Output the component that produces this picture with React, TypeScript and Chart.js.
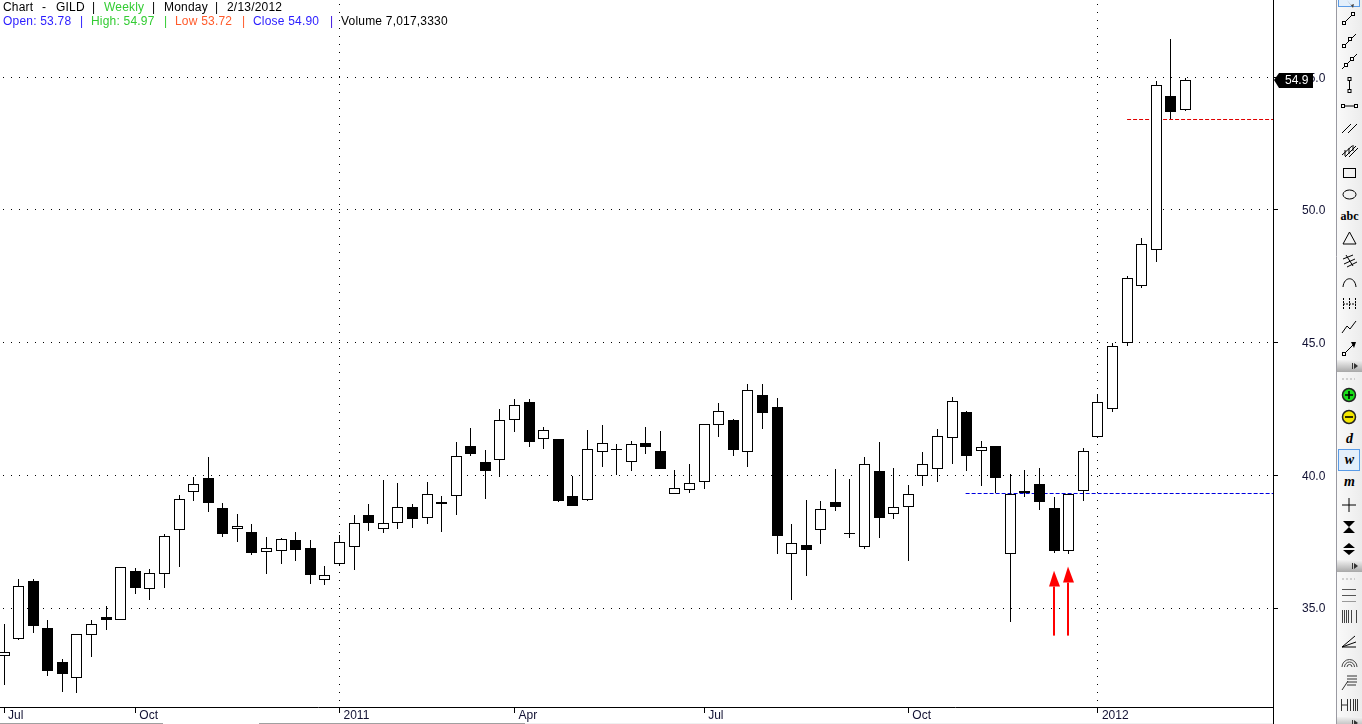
import React, { useEffect, useRef } from "react";
import { Chart, registerables } from "chart.js";

Chart.register(...registerables);

const FONT = "'Liberation Sans', Arial, sans-serif";

const opens = [
  33.21, 33.83, 36.03, 34.26, 32.98, 32.36, 33.98, 34.67, 34.55, 36.4,
  35.7, 36.28, 37.94, 39.37, 39.9, 38.77, 37.98, 37.86, 37.11, 37.15,
  37.56, 37.26, 36.05, 36.66, 37.3, 38.5, 37.98, 38.2, 38.8, 38.39,
  38.92, 39.22, 41.1, 40.5, 40.57, 42.08, 42.76, 41.37, 41.38, 39.22,
  39.07, 40.88, 40.99, 40.5, 41.21, 40.91, 39.29, 39.44, 39.75, 41.89,
  42.08, 40.88, 43.02, 42.57, 37.03, 37.37, 37.94, 38.99, 37.82, 37.3,
  40.16, 38.54, 38.8, 39.97, 40.24, 41.4, 42.38, 40.91, 41.11, 37.03,
  39.41, 39.67, 38.77, 37.15, 39.41, 41.44, 42.5, 44.98, 47.13, 48.48,
  54.3, 53.78,
];
const closes = [
  33.34, 35.83, 34.31, 32.61, 32.5, 34.02, 34.4, 34.53, 36.54, 35.74,
  36.32, 37.71, 39.11, 39.67, 38.94, 37.77, 38.09, 37.09, 37.26, 37.6,
  37.17, 36.23, 36.24, 37.48, 38.2, 38.19, 38.2, 38.8, 38.37, 39.29,
  38.99, 40.72, 40.82, 40.15, 42.08, 42.65, 41.24, 41.7, 39.05, 38.83,
  40.99, 41.21, 40.94, 41.18, 41.05, 40.22, 39.52, 39.71, 41.93, 42.42,
  40.97, 43.21, 42.33, 37.73, 37.45, 37.17, 38.73, 38.79, 37.77, 40.42,
  38.41, 38.8, 39.29, 40.42, 41.48, 42.8, 40.71, 41.06, 39.88, 39.29,
  39.34, 38.98, 37.13, 39.29, 40.91, 42.76, 44.87, 47.43, 48.71, 54.7,
  53.7, 54.9,
];
const highs = [
  34.41, 36.1, 36.1, 34.56, 33.09, 34.02, 34.56, 35.09, 36.54, 36.52,
  36.48, 37.8, 39.24, 39.95, 40.69, 38.95, 38.55, 38.16, 37.67, 37.64,
  37.86, 37.56, 36.59, 37.76, 38.51, 38.93, 39.83, 39.72, 38.93, 39.76,
  39.23, 41.26, 41.79, 40.96, 42.51, 42.88, 42.88, 41.83, 41.38, 39.98,
  41.72, 41.9, 41.19, 41.3, 41.83, 41.68, 40.21, 40.44, 41.93, 42.73,
  42.12, 43.45, 43.45, 42.92, 38.18, 39.08, 39.04, 40.25, 39.87, 40.7,
  41.26, 40.28, 39.64, 40.89, 41.75, 42.95, 42.43, 41.3, 41.11, 40.06,
  40.21, 40.28, 39.19, 39.31, 41.03, 43.06, 45.0, 47.52, 48.95, 54.86,
  56.44, 54.97,
];
const lows = [
  32.11, 33.78, 34.04, 32.42, 31.82, 31.78, 33.14, 34.16, 34.55, 35.51,
  35.29, 35.74, 36.53, 39.02, 38.6, 37.66, 37.47, 36.98, 36.27, 36.64,
  36.79, 35.89, 35.85, 36.59, 36.44, 37.92, 37.81, 37.96, 38.0, 38.15,
  37.85, 38.49, 40.71, 39.09, 39.92, 41.65, 41.05, 41.01, 38.98, 38.83,
  39.02, 40.33, 40.01, 40.15, 40.79, 40.22, 39.29, 39.35, 39.47, 41.46,
  40.71, 40.33, 41.76, 37.02, 35.29, 36.19, 37.43, 38.64, 37.62, 37.23,
  37.62, 38.37, 36.76, 39.58, 39.73, 40.41, 40.15, 39.58, 39.33, 34.46,
  39.2, 38.71, 37.06, 37.02, 39.05, 41.39, 42.37, 44.89, 47.04, 48.02,
  53.42, 53.72,
];

const xTickIndices = [0, 9, 23, 35, 48, 62, 75];
const xTickLabels = ["Jul", "Oct", "2011", "Apr", "Jul", "Oct", "2012"];
const xYearIndices = [23, 75];
const yTicks = [35, 40, 45, 50, 55];

const blueLineLevel = 39.33;
const blueLineStart = 65.93;
const redLineLevel = 53.42;
const redLineStart = 77;

const arrowIndices = [72, 73];
const arrowTails = [33.96, 33.96];
const arrowBases = [35.81, 35.96];
const arrowTips = [36.4, 36.56];

const lastPrice = 54.9;
const lastPriceLabel = "54.9";

const xMin = -0.2777;
const xMax = 87.004;
const yMin = 31.27;
const yMax = 57.91;

const headerRow1: [number, string, string][] = [
  [3, "Chart", "#000"],
  [42, "-", "#000"],
  [56, "GILD", "#000"],
  [92, "|", "#000"],
  [104, "Weekly", "#33cc33"],
  [152, "|", "#000"],
  [164, "Monday", "#000"],
  [215, "|", "#000"],
  [227, "2/13/2012", "#000"],
];
const headerRow2: [number, string, string][] = [
  [3, "Open: 53.78", "#2a1cff"],
  [80, "|", "#2a1cff"],
  [91, "High: 54.97", "#33cc33"],
  [164, "|", "#33cc33"],
  [175, "Low 53.72", "#ff5a2a"],
  [242, "|", "#ff5a2a"],
  [253, "Close 54.90", "#2a1cff"],
  [330, "|", "#3a10e0"],
  [341, "Volume 7,017,3330", "#000"],
];

const candlePlugin = {
  id: "candlePlugin",
  // snap every mark the scales positioned to the pixel grid, as the original renderer does
  afterDatasetsUpdate(chart: any) {
    chart.data.datasets.forEach((ds: any, i: number) => {
      const meta = chart.getDatasetMeta(i);
      meta.data.forEach((el: any) => {
        if (ds.type === "line") {
          el.y = Math.floor(el.y) + 0.5;
        } else {
          el.x = Math.floor(el.x) + 0.5;
          el.y = Math.round(el.y);
          el.base = Math.round(el.base);
          el.height = el.base - el.y;
        }
      });
    });
  },
  afterDraw(chart: any) {
    const { ctx, scales, chartArea } = chart;
    const xs = scales.x;
    const ys = scales.y;
    ctx.save();

    // axis line continues below the date strip
    ctx.fillStyle = "#000";
    ctx.fillRect(Math.round(chartArea.right) - 0, chartArea.bottom, 1, 724 - chartArea.bottom);

    // red arrows
    ctx.fillStyle = "#ff0000";
    arrowIndices.forEach((idx, k) => {
      const cx = Math.floor(xs.getPixelForValue(idx)) + 0.5;
      const tail = ys.getPixelForValue(arrowTails[k]);
      const base = ys.getPixelForValue(arrowBases[k]);
      const tip = ys.getPixelForValue(arrowTips[k]);
      ctx.fillRect(cx - 1.5, base, 2, tail - base);
      ctx.beginPath();
      ctx.moveTo(cx - 0.5, tip);
      ctx.lineTo(cx + 5.5, base);
      ctx.lineTo(cx - 5.5, base);
      ctx.closePath();
      ctx.fill();
    });

    // last price tag
    const py = Math.round(ys.getPixelForValue(lastPrice));
    const ax = chartArea.right + 1;
    ctx.fillStyle = "#000";
    ctx.beginPath();
    ctx.moveTo(ax, py);
    ctx.lineTo(ax + 5, py - 7);
    ctx.lineTo(1313, py - 7);
    ctx.lineTo(1313, py + 8);
    ctx.lineTo(ax + 5, py + 8);
    ctx.closePath();
    ctx.fill();
    ctx.fillStyle = "#fff";
    ctx.font = `12px ${FONT}`;
    ctx.textAlign = "left";
    ctx.textBaseline = "middle";
    ctx.fillText(lastPriceLabel, 1285, py + 1);
    ctx.restore();
  },
};

function Chip({ y, h = 22, active = false, children }: any) {
  return (
    <g>
      {active && (
        <rect x={2.5} y={y - h / 2 + 0.5} width={21} height={h - 1} fill="#e3effb" stroke="#5a9be6" />
      )}
      {children}
    </g>
  );
}

function Header({ y }: { y: number }) {
  return (
    <g>
      <defs>
        <linearGradient id="hdr" x1="0" y1="0" x2="0" y2="1">
          <stop offset="0" stopColor="#f2f2f2" />
          <stop offset="1" stopColor="#a8a8a8" />
        </linearGradient>
      </defs>
      <rect x={1} y={y} width={25} height={12} fill="url(#hdr)" />
      <path d={`M16.5 ${y + 3}v6`} stroke="#333" />
      <path d={`M18 ${y + 3}l4 3-4 3z`} fill="#333" />
    </g>
  );
}

function Grip({ y }: { y: number }) {
  return <path d={`M6 ${y}h13`} stroke="#aaa" strokeDasharray="2 2" />;
}

function Handles({ pts }: { pts: number[][] }) {
  return (
    <g fill="#fff" stroke="#000">
      {pts.map((p, i) => (
        <rect key={i} x={p[0] - 1.5} y={p[1] - 1.5} width={3} height={3} />
      ))}
    </g>
  );
}

function Toolbar() {
  const s = { fill: "none", stroke: "#000" };
  return (
    <svg
      width={26}
      height={724}
      style={{ position: "absolute", left: 1336, top: 0, display: "block" }}
    >
      <defs>
        <linearGradient id="tb" x1="0" y1="0" x2="1" y2="0">
          <stop offset="0" stopColor="#fafafa" />
          <stop offset="1" stopColor="#ececec" />
        </linearGradient>
      </defs>
      <rect x={0} y={0} width={26} height={724} fill="url(#tb)" />
      <path d="M0.5 0V724" stroke="#9a9aa2" />
      <Chip y={-4} h={22} active>
        <path d="M11 0l4 5 3-1-1 4z" fill="#444" />
      </Chip>

      <path d="M8 23L17 14" {...s} />
      <Handles pts={[[8, 23], [17, 14]]} />
      <path d="M7 47L20 34" {...s} />
      <Handles pts={[[8, 46], [14, 39]]} />
      <path d="M6 69L21 54" {...s} />
      <Handles pts={[[10, 65], [16, 59]]} />
      <path d="M13.5 80V91" {...s} />
      <Handles pts={[[13.5, 79], [13.5, 91]]} />
      <path d="M7 106H20" {...s} />
      <Handles pts={[[7, 106], [20, 106]]} />
      <path d="M6 133L15 124M12 133L21 124" stroke="#000" fill="none" />
      <g {...s}>
        <path d="M6 155L16 146M9 157L20 146M13 157L22 148" />
        <path d="M9 150v6M13 148v6M17 145v6" />
      </g>
      <rect x={7.5} y={168.5} width={12} height={9} {...s} />
      <ellipse cx={13.5} cy={194.5} rx={6.5} ry={4.5} {...s} />
      <text x={13.5} y={220} textAnchor="middle" fontFamily="'Liberation Serif', serif" fontWeight="bold" fontSize={12}>
        abc
      </text>
      <path d="M13.5 232L20 244H7z" {...s} />
      <path d="M7 259L17 255M8 264L19 259M11 267L21 262M10 255L17 266" {...s} />
      <path d="M7 287C8 276 19 276 20 287" {...s} />
      <path d="M7.5 298V310M13.5 298V310M19.5 298V310M7 304H20" stroke="#000" strokeDasharray="2 1" fill="none" />
      <path d="M6 333L11 326L14 329L20 321" {...s} />
      <path d="M8 354L18 344" {...s} />
      <path d="M15 342l5 0-2 6z" fill="#000" />
      <Handles pts={[[8, 354]]} />

      <Header y={360} />
      <Grip y={379} />

      <circle cx={13} cy={395} r={6.5} fill="#18e018" stroke="#222" strokeWidth={1.5} />
      <path d="M9 395h8M13 391v8" stroke="#000" strokeWidth={1.6} />
      <circle cx={13} cy={417} r={6.5} fill="#f5e800" stroke="#222" strokeWidth={1.5} />
      <path d="M9 417h8" stroke="#000" strokeWidth={1.6} />
      <text x={13.5} y={443} textAnchor="middle" fontFamily="'Liberation Serif', serif" fontWeight="bold" fontStyle="italic" fontSize={14}>
        d
      </text>
      <Chip y={460} active>
        <text x={13.5} y={464} textAnchor="middle" fontFamily="'Liberation Serif', serif" fontWeight="bold" fontStyle="italic" fontSize={14}>
          w
        </text>
      </Chip>
      <text x={13.5} y={486} textAnchor="middle" fontFamily="'Liberation Serif', serif" fontWeight="bold" fontStyle="italic" fontSize={14}>
        m
      </text>
      <path d="M6 505H20M13 498V512" {...s} />
      <path d="M7 521H19L13 527zM7 533H19L13 527z" fill="#000" />
      <path d="M13 543L19 548H7zM13 555L19 550H7z" fill="#000" />

      <Header y={560} />
      <Grip y={579} />
      <path d="M6 589.5H20M6 595.5H20" stroke="#555" />
      <path d="M6 601.5H20" stroke="#999" />
      <path d="M6.5 610V623M8.5 610V623M10.5 610V623M12.5 610V623M15.5 610V623M20.5 610V623" stroke="#444" />
      <path d="M6 647L19 636M6 647L20 642M6 647H20" {...s} />
      <path d="M6 667a7.5 7.5 0 0 1 15 0M8.5 667a5 5 0 0 1 10 0M11 667a2.5 2.5 0 0 1 5 0" stroke="#444" fill="none" />
      <path d="M6 690L12 681M11 676H21M11 679H21M11 682H21M11 685H20" stroke="#333" fill="none" />
      <path d="M5.5 699V711M11.5 699V711M5 705H12M14.5 699V711M17.5 699V711M19.5 699V711M21.5 699V711" stroke="#333" fill="none" />
      <Header y={717} />
    </svg>
  );
}

export default function App() {
  const ref = useRef<HTMLCanvasElement | null>(null);

  useEffect(() => {
    if (!ref.current) return;
    const indices = opens.map((_, i) => i);
    const wicks = indices.map((i) => ({ x: i, y: [lows[i], highs[i]] }));
    const hollow = indices
      .filter((i) => closes[i] >= opens[i])
      .map((i) => ({ x: i, y: [opens[i], closes[i]] }));
    const solid = indices
      .filter((i) => closes[i] < opens[i])
      .map((i) => ({ x: i, y: [closes[i], opens[i]] }));

    const barBase = {
      type: "bar",
      grouped: false,
      inflateAmount: 0,
      borderSkipped: false,
    };

    const chart = new Chart(ref.current, {
      type: "bar",
      data: {
        datasets: [
          {
            type: "line",
            label: "Support",
            data: [
              { x: blueLineStart, y: blueLineLevel },
              { x: xMax, y: blueLineLevel },
            ],
            borderColor: "#0000e0",
            borderWidth: 1,
            borderDash: [4, 2],
            pointRadius: 0,
            order: 4,
          },
          {
            type: "line",
            label: "Resistance",
            data: [
              { x: redLineStart, y: redLineLevel },
              { x: xMax, y: redLineLevel },
            ],
            borderColor: "#e00000",
            borderWidth: 1,
            borderDash: [4, 2],
            pointRadius: 0,
            order: 4,
          },
          {
            ...barBase,
            label: "Range",
            data: wicks,
            barThickness: 1,
            backgroundColor: "#000",
            borderWidth: 0,
            order: 3,
          },
          {
            ...barBase,
            label: "Up",
            data: hollow,
            barThickness: 11,
            backgroundColor: "#fff",
            borderColor: "#000",
            borderWidth: 1,
            order: 2,
          },
          {
            ...barBase,
            label: "Down",
            data: solid,
            barThickness: 11,
            backgroundColor: "#000",
            borderColor: "#000",
            borderWidth: 0,
            order: 2,
          },
        ],
      } as any,
      options: {
        responsive: false,
        animation: false,
        devicePixelRatio: 1,
        events: [],
        layout: { autoPadding: false, padding: { left: 0, top: 0, right: 26, bottom: 0 } },
        plugins: { legend: { display: false }, tooltip: { enabled: false } },
        scales: {
          x: {
            type: "linear",
            offset: false,
            min: xMin,
            max: xMax,
            afterBuildTicks: (scale: any) => {
              scale.ticks = xTickIndices.map((value) => ({ value }));
            },
            afterFit: (scale: any) => {
              scale.height = 17;
              scale.paddingLeft = 0;
              scale.paddingRight = 0;
            },
            grid: {
              offset: false,
              color: (c: any) =>
                c.tick && xYearIndices.includes(c.tick.value) ? "#000" : "rgba(0,0,0,0)",
              tickColor: "#000",
              tickLength: 6,
              lineWidth: 1,
              drawTicks: true,
            },
            border: { display: true, color: "#000", width: 1, dash: [1, 7], dashOffset: 4 },
            ticks: {
              autoSkip: false,
              maxRotation: 0,
              minRotation: 0,
              align: "start",
              labelOffset: 4,
              padding: -5,
              color: "#111133",
              font: { family: FONT, size: 12 },
              callback: (v: any) => xTickLabels[xTickIndices.indexOf(v)] ?? "",
            },
          },
          y: {
            type: "linear",
            position: "right",
            min: yMin,
            max: yMax,
            afterBuildTicks: (scale: any) => {
              scale.ticks = yTicks.map((value) => ({ value }));
            },
            afterFit: (scale: any) => {
              scale.width = 63;
              scale.paddingTop = 0;
              scale.paddingBottom = 0;
            },
            grid: { color: "#000", tickColor: "#000", tickLength: 5, lineWidth: 1 },
            border: { display: true, color: "#000", width: 1, dash: [1, 7], dashOffset: 5 },
            ticks: {
              padding: 24,
              labelOffset: 1,
              color: "#111133",
              font: { family: FONT, size: 12 },
              callback: (v: any) => Number(v).toFixed(1),
            },
          },
        },
      } as any,
      plugins: [candlePlugin],
    } as any);
    return () => chart.destroy();
  }, []);

  const rowStyle = (x: number, y: number, color: string): React.CSSProperties => ({
    position: "absolute",
    left: x,
    top: y,
    color,
    font: `12px/14px ${FONT}`,
    letterSpacing: "0.2px",
    whiteSpace: "pre",
  });

  return (
    <div style={{ position: "fixed", left: 0, top: 0, width: 1362, height: 724, background: "#fff", overflow: "hidden" }}>
      <canvas ref={ref} width={1362} height={724} style={{ position: "absolute", left: 0, top: 0, display: "block", width: 1362, height: 724 }} />
      {headerRow1.map(([x, t, c], i) => (
        <span key={`a${i}`} style={rowStyle(x, 0, c)}>{t}</span>
      ))}
      {headerRow2.map(([x, t, c], i) => (
        <span key={`b${i}`} style={rowStyle(x, 14, c)}>{t}</span>
      ))}
      <div style={{ position: "absolute", left: 0, top: 723, width: 163, height: 1, background: "#a0a0a0" }} />
      <div style={{ position: "absolute", left: 259, top: 723, width: 266, height: 1, background: "#a0a0a0" }} />
      <div style={{ position: "absolute", left: 525, top: 723, width: 748, height: 1, background: "#f0f0f0" }} />
      <Toolbar />
    </div>
  );
}
